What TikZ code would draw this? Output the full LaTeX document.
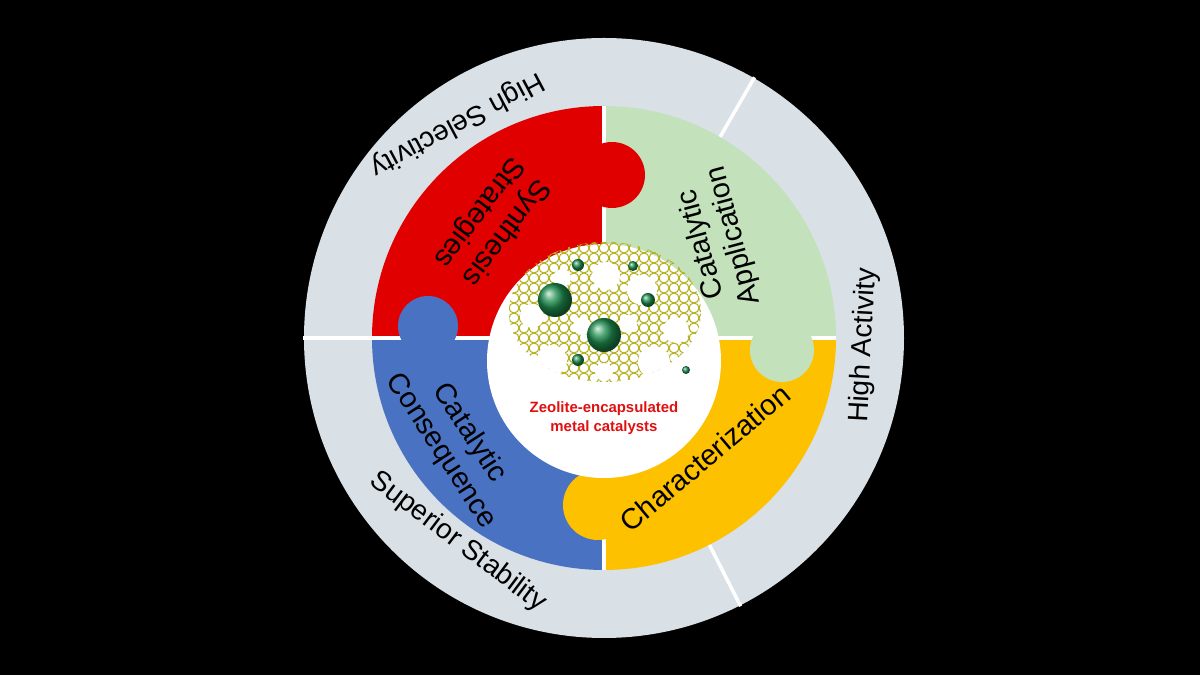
\documentclass[tikz,border=0pt]{standalone}
\usepackage{fontspec}
\setmainfont{Liberation Sans}
\usepackage{xcolor}
\usetikzlibrary{backgrounds}
\usetikzlibrary {arrows.meta,positioning,calc}
\definecolor{RingBackground}{HTML}{D9E0E6}
\definecolor{SynthesisRed}{HTML}{E10000}
\definecolor{ApplicationGreen}{HTML}{C3E2BC}
\definecolor{CharacterYellow}{HTML}{FDC100}
\definecolor{ConsequenceBlue}{HTML}{4A72C2}
\definecolor{FrameworkOlive}{HTML}{B5B020}
\definecolor{MetalGreen}{HTML}{1E8E4E}
\definecolor{LabelRed}{HTML}{E01010}
\tikzstyle{PuzzleText} =[text=black,align=center,font=\fontsize{16.5}{19}\selectfont]
\tikzstyle{RingLabel} =[text=black,font=\fontsize{16}{19}\selectfont]
\tikzstyle{Divider} =[draw=white,line width=2pt]
\tikzstyle{MetalBall} =[ball color=MetalGreen,draw=none]

\begin{document}
\begin{tikzpicture}[x=0.02cm,y=0.02cm]
    \fill[black] (-604,-337) rectangle (596,338);
    \useasboundingbox (-604,-337) rectangle (596,338);

    % outer ring
    \fill[RingBackground] (0,0) circle (300);
    \foreach \a in {180,60,-63} \draw[Divider] (\a:230) -- (\a:301);

    % puzzle quadrants
    \fill[ApplicationGreen] (0,0) -- (0:232) arc (0:90:232) -- cycle;
    \fill[SynthesisRed] (0,0) -- (90:232) arc (90:180:232) -- cycle;
    \fill[ConsequenceBlue] (0,0) -- (180:232) arc (180:270:232) -- cycle;
    \fill[CharacterYellow] (0,0) -- (270:232) arc (270:360:232) -- cycle;
    \draw[Divider] (-232,0) -- (232,0);
    \draw[Divider] (0,-232) -- (0,232);

    % tabs
    \fill[SynthesisRed] (8,163) circle (33);
    \fill[ApplicationGreen] (178,-12) circle (32);
    \fill[CharacterYellow] (-6,-167) circle (35);
    \fill[ConsequenceBlue] (-176,12) circle (30);

    % centre
    \fill[white] (0,-23) circle (117);
    \begin{scope}
        \clip (1,26) ellipse (96 and 70);
        \foreach \x in {-100,-90,...,100}
            \foreach \y in {-50,-40,...,100}
                \draw[FrameworkOlive,line width=0.6pt] (\x,\y) circle (5);
        \foreach \p/\r in {{(2,62)/14},{(-42,60)/9},{(38,48)/15},{(-72,22)/12},{(72,8)/13},{(-52,-22)/15},{(50,-24)/16},{(-22,12)/9},{(24,14)/9},{(-88,-32)/8},{(88,-38)/8},{(0,-34)/9}}
            \fill[white] \p circle (\r);
    \end{scope}
    \shade[MetalBall] (-49,38) circle (17);
    \shade[MetalBall] (0,3) circle (17);
    \shade[MetalBall] (-26,73) circle (6);
    \shade[MetalBall] (29,72) circle (5);
    \shade[MetalBall] (44,38) circle (7);
    \shade[MetalBall] (-26,-22) circle (6);
    \shade[MetalBall] (82,-32) circle (4);
    \node[text=LabelRed,align=center,font=\fontsize{8.5}{11}\selectfont\bfseries] (CenterLabel) at (0,-80) {Zeolite-encapsulated\\metal catalysts};

    % labels
    \node[PuzzleText,rotate=233] (SynthesisText) at (-112,116) {Synthesis\\Strategies};
    \node[PuzzleText,rotate=105] (ApplicationText) at (114,98) {Catalytic\\Application};
    \node[PuzzleText,rotate=40] (CharacterText) at (101,-120) {Characterization};
    \node[PuzzleText,rotate=-57] (ConsequenceText) at (-149,-104) {Catalytic\\Consequence};
    \node[RingLabel,rotate=208] (SelectivityText) at (-147,214) {High Selectivity};
    \node[RingLabel,rotate=87] (ActivityText) at (260,-7) {High Activity};
    \node[RingLabel,rotate=-37] (StabilityText) at (-146,-204) {Superior Stability};
\end{tikzpicture}
\end{document}
